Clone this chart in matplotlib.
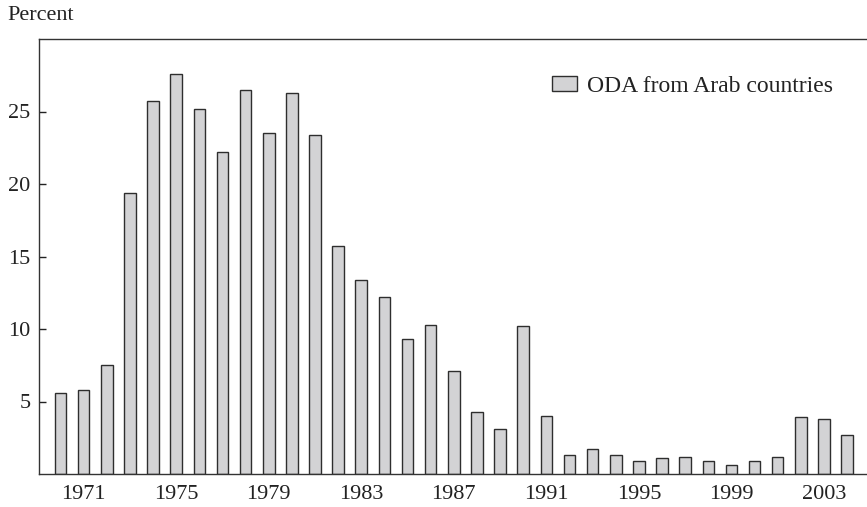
import numpy as np
import matplotlib
matplotlib.use("Agg")
import matplotlib.pyplot as plt

# data
years = np.arange(1970, 2005)
oda_share = [5.6, 5.8, 7.5, 19.4, 25.7, 27.6, 25.2, 22.2, 26.5, 23.5,
             26.3, 23.4, 15.7, 13.4, 12.2, 9.3, 10.3, 7.1, 4.3, 3.1,
             10.2, 4.0, 1.3, 1.7, 1.3, 0.9, 1.1, 1.2, 0.9, 0.6,
             0.9, 1.2, 3.9, 3.8, 2.7]
tick_years = [1971, 1975, 1979, 1983, 1987, 1991, 1995, 1999, 2003]
y_ticks = [5, 10, 15, 20, 25]

plt.rcParams['font.family'] = ['Liberation Serif', 'DejaVu Serif']

fig = plt.figure(figsize=(8.67, 5.07), dpi=100)
# axes box: left spine at x=39 px, top at y=39 px, baseline at y=474 px
ax = fig.add_axes([39 / 867, 1 - 474 / 507, (867 - 39) / 867, (474 - 39) / 507])

ax.bar(years, oda_share, width=0.5, color="#d3d3d5", edgecolor="#2e2e2e",
       linewidth=1.0, label="ODA from Arab countries")

ax.set_xlim(1969.07, 2004.86)
ax.set_ylim(0, 30)
ax.set_xticks(tick_years)
ax.set_xticklabels([str(y) for y in tick_years])
ax.set_yticks(y_ticks)
ax.tick_params(axis="x", length=0, labelsize=16, pad=8, colors="#222222")
ax.tick_params(axis="y", direction="in", length=5, width=1, labelsize=16,
               pad=6, colors="#222222")

for side in ["left", "top", "bottom"]:
    ax.spines[side].set_linewidth(1.0)
    ax.spines[side].set_color("#333333")
ax.spines["right"].set_visible(False)

ax.legend(loc="center left", bbox_to_anchor=((552 - 39) / 828, (474 - 86) / 435),
          frameon=False, fontsize=17, borderaxespad=0, borderpad=0,
          handlelength=1.05, handleheight=0.6, handletextpad=0.45,
          labelcolor="#222222")

fig.text(7 / 867, 1 - 16 / 507, "Percent", fontsize=16, va="center",
         ha="left", color="#222222")

fig.savefig("out.png", dpi=100)
